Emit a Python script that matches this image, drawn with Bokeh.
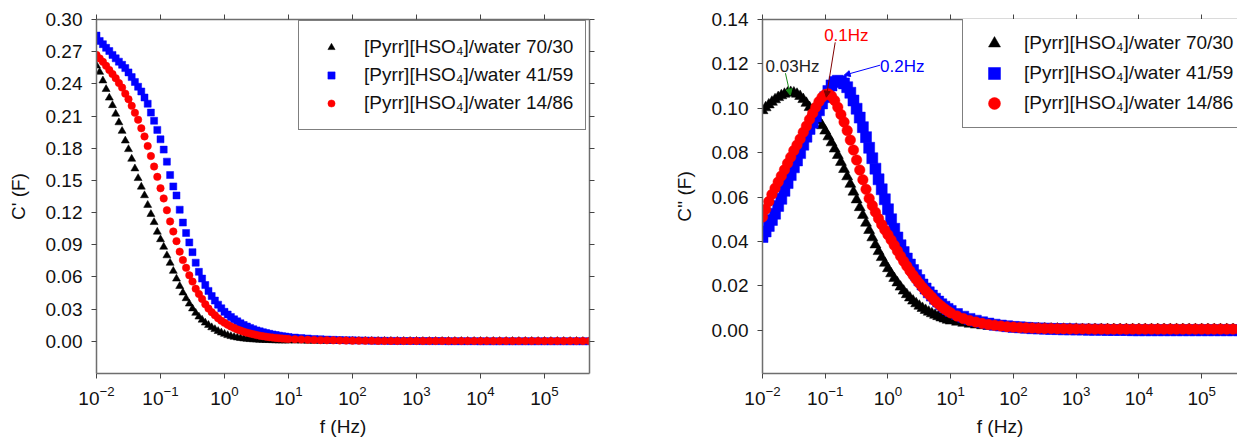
from bokeh.plotting import figure
from bokeh.models import (LogAxis, LinearAxis, FixedTicker, CustomJSTickFormatter,
                          PrintfTickFormatter, Legend, LegendItem, Label, Arrow,
                          NormalHead, Range1d)
from bokeh.layouts import row
from bokeh.embed import file_html
from bokeh.resources import INLINE

FONT = "Liberation Sans"

# ---------------- data ----------------
freq = [0.01, 0.01122, 0.01259, 0.01413, 0.01585, 0.01778, 0.01995, 0.02239, 0.02512, 0.02818,
        0.03162, 0.03548, 0.03981, 0.04467, 0.05012, 0.05623, 0.0631, 0.07079, 0.07943, 0.08913,
        0.1, 0.1122, 0.1259, 0.1413, 0.1585, 0.1778, 0.1995, 0.2239, 0.2512, 0.2818,
        0.3162, 0.3548, 0.3981, 0.4467, 0.5012, 0.5623, 0.631, 0.7079, 0.7943, 0.8913,
        1.0, 1.122, 1.259, 1.413, 1.585, 1.778, 1.995, 2.239, 2.512, 2.818,
        3.162, 3.548, 3.981, 4.467, 5.012, 5.623, 6.31, 7.079, 7.943, 8.913,
        10.0,
        12.59, 15.85, 19.95, 25.12, 31.62, 39.81, 50.12, 63.1, 79.43, 100.0,
        125.9, 158.5, 199.5, 251.2, 316.2, 398.1, 501.2, 631.0, 794.3, 1000.0,
        1259.0, 1585.0, 1995.0, 2512.0, 3162.0, 3981.0, 5012.0, 6310.0, 7943.0, 10000.0,
        12590.0, 15850.0, 19950.0, 25120.0, 31620.0, 39810.0, 50120.0, 63100.0, 79430.0, 100000.0,
        125900.0, 158500.0, 199500.0, 251200.0, 316200.0, 398100.0, 501200.0]

# C' (F)
cre_70_30 = [0.257, 0.251, 0.243, 0.235, 0.227, 0.220, 0.212, 0.204, 0.196, 0.187,
             0.179, 0.170, 0.161, 0.152, 0.144, 0.136, 0.127, 0.1185, 0.111, 0.102,
             0.095, 0.088, 0.080, 0.073, 0.0655, 0.0583, 0.0514, 0.0453, 0.040, 0.035,
             0.0305, 0.0264, 0.0229, 0.020, 0.0173, 0.0151, 0.0129, 0.0112, 0.0094, 0.0080,
             0.0068, 0.0056, 0.0047, 0.0040, 0.0034, 0.0029, 0.0025, 0.0022, 0.0019, 0.0017,
             0.0015, 0.0013, 0.0012, 0.0011, 0.0010, 0.0009, 0.0008, 0.0007, 0.0007, 0.0006,
             0.0006,
             0.0005, 0.0005, 0.0004, 0.0004, 0.0004, 0.0003, 0.0003, 0.0003, 0.0002, 0.0002,
             0.0002, 0.0002, 0.0002, 0.0002, 0.0002, 0.0002, 0.0002, 0.0002, 0.0002, 0.0002,
             0.0001, 0.0001, 0.0001, 0.0001, 0.0001, 0.0001, 0.0001, 0.0001, 0.0001, 0.0001,
             0.0001, 0.0001, 0.0001, 0.0001, 0.0001, 0.0001, 0.0001, 0.0001, 0.0001, 0.0001,
             0.0001, 0.0001, 0.0001, 0.0001, 0.0001, 0.0001, 0.0001]
cre_41_59 = [0.285, 0.280, 0.277, 0.2736, 0.2706, 0.267, 0.2638, 0.2607, 0.2578, 0.2547,
             0.2507, 0.2463, 0.2418, 0.2373, 0.2329, 0.2273, 0.2215, 0.2132, 0.2056, 0.1971,
             0.1883, 0.1787, 0.1675, 0.155, 0.1444, 0.136, 0.1227, 0.1107, 0.101, 0.0922,
             0.0831, 0.0733, 0.0648, 0.0585, 0.0525, 0.0470, 0.0422, 0.0380, 0.0342, 0.0308,
             0.0275, 0.0250, 0.0227, 0.0205, 0.0186, 0.0168, 0.0152, 0.0138, 0.0125, 0.0113,
             0.0102, 0.0093, 0.0085, 0.0077, 0.0070, 0.0064, 0.0058, 0.0053, 0.0048, 0.0044,
             0.0040,
             0.0035, 0.0030, 0.0026, 0.0022, 0.0019, 0.0016, 0.0014, 0.0012, 0.0010, 0.0009,
             0.0008, 0.0007, 0.0006, 0.0005, 0.0005, 0.0004, 0.0004, 0.0003, 0.0003, 0.0003,
             0.0002, 0.0002, 0.0002, 0.0002, 0.0001, 0.0001, 0.0001, 0.0001, 0.0001, 0.0000,
             0.0000, 0.0000, 0.0000, 0.0000, 0.0000, 0.0000, 0.0000, 0.0000, 0.0000, 0.0000,
             0.0000, 0.0000, 0.0000, 0.0000, 0.0000, 0.0000, 0.0000]
cre_14_86 = [0.267, 0.2637, 0.2605, 0.2568, 0.2529, 0.2491, 0.2453, 0.2408, 0.2365, 0.2309,
             0.2257, 0.2195, 0.213, 0.2066, 0.1986, 0.191, 0.182, 0.1727, 0.1629, 0.1533,
             0.1427, 0.1332, 0.1222, 0.1118, 0.1024, 0.0934, 0.0836, 0.0757, 0.0685, 0.0615,
             0.0557, 0.049, 0.0441, 0.0395, 0.0345, 0.0305, 0.0272, 0.0243, 0.0215, 0.0192,
             0.0172, 0.0154, 0.0138, 0.0124, 0.0111, 0.0100, 0.0090, 0.0081, 0.0073, 0.0066,
             0.0059, 0.0053, 0.0048, 0.0043, 0.0039, 0.0035, 0.0032, 0.0029, 0.0026, 0.0024,
             0.0022,
             0.0019, 0.0017, 0.0015, 0.0013, 0.0011, 0.0010, 0.0009, 0.0008, 0.0007, 0.0006,
             0.0006, 0.0005, 0.0005, 0.0004, 0.0004, 0.0004, 0.0003, 0.0003, 0.0003, 0.0003,
             0.0003, 0.0003, 0.0003, 0.0003, 0.0003, 0.0003, 0.0003, 0.0003, 0.0003, 0.0003,
             0.0003, 0.0003, 0.0003, 0.0003, 0.0003, 0.0003, 0.0003, 0.0003, 0.0003, 0.0003,
             0.0003, 0.0003, 0.0003, 0.0003, 0.0003, 0.0003, 0.0003]

# C'' (F)
cim_70_30 = [0.0990, 0.1003, 0.1016, 0.1028, 0.1039, 0.1049, 0.1057, 0.1064, 0.1069, 0.1072,
             0.1070, 0.1064, 0.1054, 0.1040, 0.1023, 0.1004, 0.0983, 0.0962, 0.0945, 0.0922,
             0.0898, 0.0872, 0.0845, 0.0817, 0.0788, 0.0757, 0.0725, 0.0692, 0.0658, 0.0623,
             0.0588, 0.0553, 0.0518, 0.0483, 0.0450, 0.0417, 0.0385, 0.0355, 0.0328, 0.0302,
             0.0278, 0.0255, 0.0234, 0.0214, 0.0195, 0.0177, 0.0161, 0.0146, 0.0132, 0.0120,
             0.0109, 0.0099, 0.0090, 0.0082, 0.0075, 0.0068, 0.0062, 0.0056, 0.0051, 0.0046,
             0.0042,
             0.0037, 0.0032, 0.0028, 0.0024, 0.0021, 0.0018, 0.0016, 0.0014, 0.0012, 0.0011,
             0.0010, 0.0009, 0.0008, 0.0007, 0.0007, 0.0006, 0.0006, 0.0005, 0.0005, 0.0005,
             0.0004, 0.0004, 0.0004, 0.0004, 0.0004, 0.0004, 0.0004, 0.0004, 0.0004, 0.0004,
             0.0004, 0.0004, 0.0004, 0.0004, 0.0004, 0.0004, 0.0004, 0.0004, 0.0004, 0.0004,
             0.0004, 0.0004, 0.0004, 0.0004, 0.0004, 0.0004, 0.0004]
cim_41_59 = [0.0420, 0.0445, 0.0470, 0.0497, 0.0525, 0.0560, 0.0592, 0.0628, 0.0663, 0.0699,
             0.0734, 0.0765, 0.0798, 0.0836, 0.0872, 0.0907, 0.0935, 0.0963, 0.0991, 0.1022,
             0.1050, 0.1078, 0.1103, 0.1118, 0.1124, 0.1121, 0.1112, 0.1095, 0.1070, 0.1035,
             0.0998, 0.0958, 0.0915, 0.0870, 0.0822, 0.0775, 0.0728, 0.0680, 0.0635, 0.0590,
             0.0545, 0.0500, 0.0457, 0.0418, 0.0383, 0.0352, 0.0323, 0.0296, 0.0271, 0.0248,
             0.0226, 0.0206, 0.0188, 0.0171, 0.0156, 0.0142, 0.0129, 0.0117, 0.0106, 0.0096,
             0.0087,
             0.0073, 0.0061, 0.0051, 0.0043, 0.0036, 0.0030, 0.0025, 0.0021, 0.0018, 0.0015,
             0.0013, 0.0011, 0.0009, 0.0008, 0.0007, 0.0006, 0.0005, 0.0004, 0.0004, 0.0003,
             0.0003, 0.0002, 0.0002, 0.0002, 0.0001, 0.0001, 0.0001, 0.0001, 0.0000, 0.0000,
             0.0000, 0.0000, 0.0000, 0.0000, 0.0000, 0.0000, 0.0000, 0.0000, 0.0000, 0.0000,
             0.0000, 0.0000, 0.0000, 0.0000, 0.0000, 0.0000, 0.0000]
cim_14_86 = [0.0510, 0.0545, 0.0580, 0.0612, 0.0640, 0.0668, 0.0695, 0.0723, 0.0752, 0.0780,
             0.0810, 0.0835, 0.0862, 0.0892, 0.0920, 0.0950, 0.0978, 0.1005, 0.1030, 0.1050,
             0.1062, 0.1065, 0.1055, 0.1035, 0.1005, 0.0972, 0.0938, 0.0900, 0.0857, 0.0812,
             0.0767, 0.0722, 0.0678, 0.0635, 0.0594, 0.0562, 0.0532, 0.0503, 0.0476, 0.0452,
             0.0430, 0.0407, 0.0383, 0.0358, 0.0334, 0.0311, 0.0289, 0.0268, 0.0248, 0.0229,
             0.0211, 0.0194, 0.0178, 0.0163, 0.0149, 0.0133, 0.0120, 0.0108, 0.0097, 0.0087,
             0.0078,
             0.0064, 0.0053, 0.0044, 0.0037, 0.0031, 0.0026, 0.0022, 0.0019, 0.0016, 0.0014,
             0.0012, 0.0011, 0.0010, 0.0009, 0.0008, 0.0008, 0.0007, 0.0007, 0.0006, 0.0006,
             0.0006, 0.0006, 0.0005, 0.0005, 0.0005, 0.0005, 0.0005, 0.0005, 0.0005, 0.0005,
             0.0005, 0.0005, 0.0005, 0.0005, 0.0005, 0.0005, 0.0005, 0.0005, 0.0005, 0.0005,
             0.0005, 0.0005, 0.0005, 0.0005, 0.0005, 0.0005, 0.0005]

series_labels = ["[Pyrr][HSO\u2084]/water 70/30",
                 "[Pyrr][HSO\u2084]/water 41/59",
                 "[Pyrr][HSO\u2084]/water 14/86"]
series_colors = ["#000000", "#0000ff", "#ff0000"]
series_markers = ["triangle", "square", "circle"]

x_ticks = [0.01, 0.1, 1, 10, 100, 1000, 10000, 100000]
y_ticks_left = [0.00, 0.03, 0.06, 0.09, 0.12, 0.15, 0.18, 0.21, 0.24, 0.27, 0.30]
y_ticks_right = [0.00, 0.02, 0.04, 0.06, 0.08, 0.10, 0.12, 0.14]

# peak annotations: text, text position, arrow start, arrow tip, colours
ann_text = ["0.03Hz", "0.1Hz", "0.2Hz"]
ann_text_x = [0.0112, 0.096, 0.746]
ann_text_y = [0.1186, 0.1329, 0.1189]
ann_text_color = ["#222222", "#ff0000", "#0000ff"]
ann_x0 = [0.0232, 0.144, 0.746]
ann_y0 = [0.1158, 0.1297, 0.1194]
ann_x1 = [0.0278, 0.104, 0.200]
ann_y1 = [0.1059, 0.1050, 0.1149]
ann_line_color = ["#1a8a1a", "#800000", "#0000ff"]

AX = "#6e6e6e"
FS = "19px"


def style_axis(ax, size=FS):
    ax.axis_line_color = AX
    ax.axis_line_width = 1.5
    ax.major_tick_line_color = "#444444"
    ax.major_tick_line_width = 1
    ax.major_tick_out = 5
    ax.major_tick_in = 0
    ax.minor_tick_line_color = None
    ax.major_label_text_font = FONT
    ax.major_label_text_font_size = size
    ax.major_label_text_color = "#111111"
    ax.axis_label_text_font = FONT
    ax.axis_label_text_font_size = FS
    ax.axis_label_text_font_style = "normal"
    ax.axis_label_text_color = "#111111"


def blank_axis(ax):
    style_axis(ax, "0px")
    ax.formatter = CustomJSTickFormatter(code="return ''")
    ax.major_label_standoff = 0


def make_fig(width, bl, br, xend, ylo, yhi, yticks, ylabel, right_axis):
    p = figure(width=width, height=441, x_axis_type="log",
               x_range=Range1d(0.01, xend), y_range=Range1d(ylo, yhi),
               output_backend="svg", toolbar_location=None,
               min_border_left=bl, min_border_right=br,
               min_border_top=19, min_border_bottom=68)
    p.outline_line_color = None
    p.xgrid.visible = False
    p.ygrid.visible = False
    p.background_fill_color = "white"
    p.border_fill_color = "white"

    xa = p.xaxis[0]
    xa.ticker = FixedTicker(ticks=x_ticks)
    style_axis(xa)
    xa.major_label_standoff = 7
    xa.axis_label = "f (Hz)"
    xa.axis_label_standoff = 8

    ya = p.yaxis[0]
    ya.ticker = FixedTicker(ticks=yticks)
    ya.formatter = PrintfTickFormatter(format="%.2f")
    style_axis(ya)
    ya.major_label_standoff = 9
    ya.axis_label = ylabel
    ya.axis_label_standoff = 14

    top = LogAxis(ticker=FixedTicker(ticks=x_ticks))
    blank_axis(top)
    p.add_layout(top, "above")
    if right_axis:
        ra = LinearAxis(ticker=FixedTicker(ticks=yticks))
        blank_axis(ra)
        p.add_layout(ra, "right")
    return p


# ---------------- left: C' ----------------
p1 = make_fig(670, 96, 81, 10 ** 5.703, -0.03, 0.30, y_ticks_left, "C' (F)", True)
left_sizes = [8, 7, 7.5]
r1 = []
for ys, c, m, s in zip([cre_70_30, cre_41_59, cre_14_86], series_colors, series_markers, left_sizes):
    r1.append(p1.scatter(freq, ys, marker=m, size=s, fill_color=c, line_color=c, line_width=0.5))

leg1 = Legend(items=[LegendItem(label=l, renderers=[r]) for l, r in zip(series_labels, r1)],
              location=(202, 243), padding=12, spacing=0,
              glyph_width=40, glyph_height=18, label_height=28, label_standoff=13,
              label_text_font=FONT, label_text_font_size=FS, label_text_color="#111111",
              border_line_color="#000000", border_line_width=1, background_fill_alpha=1,
              margin=0)
p1.add_layout(leg1)

# ---------------- right: C'' ----------------
p2 = make_fig(567, 90, 0, 10 ** 5.571, -0.0195, 0.14, y_ticks_right, "C'' (F)", False)
right_sizes = [11, 11, 10.5]
r2 = []
for ys, c, m, s in zip([cim_70_30, cim_41_59, cim_14_86], series_colors, series_markers, right_sizes):
    r2.append(p2.scatter(freq, ys, marker=m, size=s, fill_color=c, line_color=c, line_width=0.5))

for i in range(len(ann_text)):
    p2.add_layout(Arrow(end=NormalHead(size=6, fill_color=ann_line_color[i], line_color=ann_line_color[i]),
                        x_start=ann_x0[i], y_start=ann_y0[i], x_end=ann_x1[i], y_end=ann_y1[i],
                        line_color=ann_line_color[i], line_width=1))
    p2.add_layout(Label(x=ann_text_x[i], y=ann_text_y[i], text=ann_text[i],
                        text_font=FONT, text_font_size="17px", text_color=ann_text_color[i],
                        text_baseline="middle", text_align="left"))

leg2 = Legend(items=[LegendItem(label=l, renderers=[r]) for l, r in zip(series_labels, r2)],
              location=(200, 245), padding=9, spacing=0,
              glyph_width=44, glyph_height=30, label_height=30, label_standoff=8,
              label_text_font=FONT, label_text_font_size=FS, label_text_color="#111111",
              border_line_color="#000000", border_line_width=1, background_fill_alpha=1,
              margin=0)
p2.add_layout(leg2)

layout = row(p1, p2)

open("out.html", "w").write(file_html(layout, INLINE))
